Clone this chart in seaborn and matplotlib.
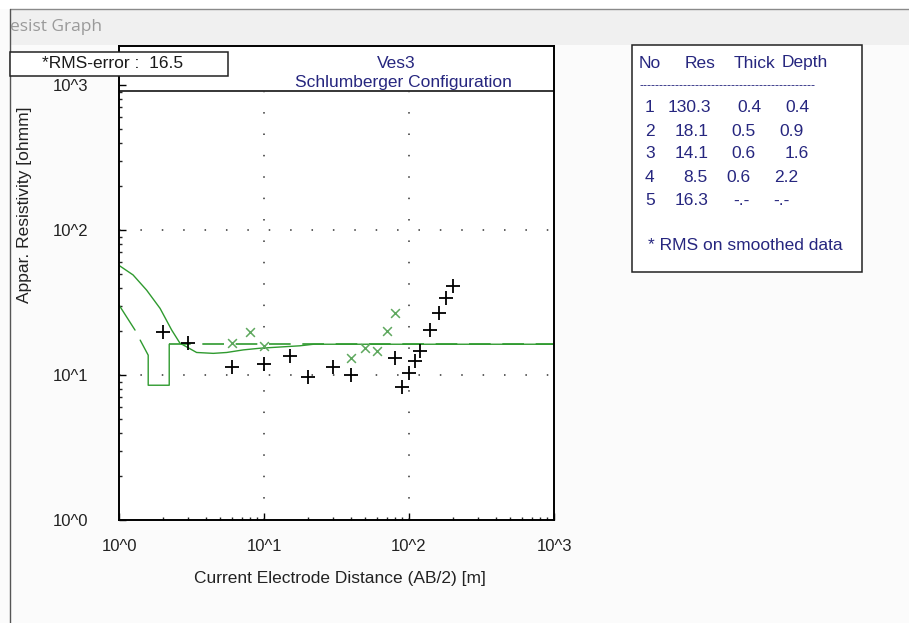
import numpy as np
import pandas as pd
import matplotlib
matplotlib.use("Agg")
import matplotlib.pyplot as plt
from matplotlib.patches import Rectangle
from matplotlib.lines import Line2D
import seaborn as sns

# ---------------- data ----------------
field_ab2 = [2, 3, 6, 10, 15, 20, 30, 40, 80, 90, 100, 110, 120, 140, 160, 180, 200]
field_rho = [19.9, 16.6, 11.3, 11.9, 13.6, 9.7, 11.3, 10.0, 13.0, 8.3, 10.3, 12.4, 14.7, 20.5, 26.8, 33.8, 41.3]

smooth_ab2 = [6, 8, 10, 40, 50, 60, 70, 80]
smooth_rho = [16.6, 19.7, 15.8, 13.0, 15.4, 14.7, 20.2, 26.8]

calc_ab2 = [1.0, 1.25, 1.55, 1.92, 2.31, 2.63, 3.43, 4.47, 5.53, 7.2, 9.4, 17.7, 22, 100, 1000]
calc_rho = [57, 49, 38.5, 28.8, 20.4, 16.6, 14.3, 14.1, 14.3, 14.9, 15.3, 15.9, 16.3, 16.3, 16.3]

model_x = [1.0, 1.29, 1.40, 1.59, 1.59, 2.22, 2.22, 2.22, 1000]
model_y = [30.4, 20.4, 17.4, 13.7, 8.5, 8.5, 16.3, 16.3, 16.3]
model_seg = [0, 0, 1, 1, 1, 1, 1, 2, 2]

x_ticks = [1, 10, 100, 1000]
x_ticklabels = ["10^0", "10^1", "10^2", "10^3"]
y_ticks = [1, 10, 100, 1000]
y_ticklabels = ["10^0", "10^1", "10^2", "10^3"]

title_lines = ["Ves3", "Schlumberger Configuration"]
rms_text = "*RMS-error :  16.5"
window_title = "esist Graph"
xlabel = "Current Electrode Distance (AB/2) [m]"
ylabel = "Appar. Resistivity [ohmm]"

tbl_header = ["No", "Res", "Thick", "Depth"]
tbl_no = ["1", "2", "3", "4", "5"]
tbl_res = ["130.3", "18.1", "14.1", "8.5", "16.3"]
tbl_thick = ["0.4", "0.5", "0.6", "0.6", "-.-"]
tbl_depth = ["0.4", "0.9", "1.6", "2.2", "-.-"]
tbl_note = "* RMS on smoothed data"

# ---------------- style ----------------
sns.set_style("white")
FONT = ["Liberation Sans", "DejaVu Sans"]
plt.rcParams["font.family"] = FONT

W, H = 909, 623
fig = plt.figure(figsize=(W / 100, H / 100), dpi=100)
fig.patch.set_facecolor("#fbfbfb")

def fx(px):
    return px / W

def fy(py):
    return 1 - py / H

BLUE = "#26267f"
GREEN = "#2f9a2f"
GREEN_X = "#5fa85f"

# window chrome
fig.add_artist(Rectangle((0, fy(9)), 1, fy(0) - fy(9), transform=fig.transFigure,
                         facecolor="white", edgecolor="none", zorder=0))
fig.add_artist(Rectangle((fx(10), fy(45)), 1, fy(9) - fy(45), transform=fig.transFigure,
                         facecolor="#f0f0f0", edgecolor="none", zorder=0))
fig.add_artist(Line2D([fx(10), 1], [fy(9), fy(9)], transform=fig.transFigure,
                      color="#8a8a8a", lw=1.0))
fig.add_artist(Line2D([fx(10), fx(10)], [fy(9), 0], transform=fig.transFigure,
                      color="#555555", lw=1.0))
fig.text(fx(10), fy(27), window_title, ha="left", va="center", fontsize=12.5,
         color="#9a9a9a", family=["Open Sans", "DejaVu Sans"])

# axes
ax_l, ax_r, ax_t, ax_b = 119, 554, 46, 520
ax = fig.add_axes([fx(ax_l), fy(ax_b), fx(ax_r - ax_l), (ax_b - ax_t) / H])
ax.set_facecolor("white")
ax.set_xscale("log")
ax.set_yscale("log")
decade_px = 145.0
ax.set_xlim(1, 1000)
ax.set_ylim(1, 10 ** ((ax_b - ax_t) / decade_px))
for sp in ax.spines.values():
    sp.set_color("black")
    sp.set_linewidth(1.4)

# separator line under the title area
sep_frac = (ax_b - 91) / (ax_b - ax_t)
sep_val = 10 ** ((ax_b - 91) / decade_px)
ax.plot([0, 1], [sep_frac, sep_frac], transform=ax.transAxes, color="black", lw=1.1)

# dotted grid at decades
ax.vlines([10, 100], 1, sep_val, colors="#333333", linewidth=1.1,
          linestyles=[(0, (1, 13))])
ax.hlines([10, 100], 1, 1000, colors="#333333", linewidth=1.1,
          linestyles=[(0, (1, 13))])

# curves
calc_df = pd.DataFrame({"x": calc_ab2, "y": calc_rho})
sns.lineplot(data=calc_df, x="x", y="y", sort=False, estimator=None,
             color=GREEN, lw=1.0, ax=ax)

model_df = pd.DataFrame({"x": model_x, "y": model_y, "seg": model_seg})
sns.lineplot(data=model_df[model_df.seg < 2], x="x", y="y", units="seg",
             sort=False, estimator=None, color=GREEN, lw=1.0, ax=ax)
sns.lineplot(data=model_df[model_df.seg == 2], x="x", y="y", sort=False,
             estimator=None, color=GREEN, lw=1.2, dashes=False, ax=ax,
             linestyle=(0, (13, 7)))

sns.scatterplot(x=smooth_ab2, y=smooth_rho, marker="x", s=40, color=GREEN_X,
                linewidth=1.1, ax=ax, zorder=4)
sns.scatterplot(x=field_ab2, y=field_rho, marker="+", s=110, color="black",
                linewidth=1.3, ax=ax, zorder=5)

# ticks
ax.set_xticks(x_ticks)
ax.set_xticklabels(x_ticklabels)
ax.set_yticks(y_ticks)
ax.set_yticklabels(y_ticklabels)
ax.tick_params(which="major", direction="in", length=5, width=1.0,
               bottom=True, left=True, top=False, right=False,
               labelsize=12, colors="black")
ax.tick_params(axis="x", which="major", pad=14)
ax.tick_params(axis="y", which="major", pad=22)
ax.tick_params(which="minor", direction="in", length=2.2, width=1.0,
               bottom=True, left=True, top=False, right=False)
for lab in ax.get_xticklabels() + ax.get_yticklabels():
    lab.set_color("#222222")
ax.set_xlabel("")
ax.set_ylabel("")

fig.text(fx(340), fy(578), xlabel, ha="center", va="center", fontsize=12.5, color="#222222")
fig.text(fx(25), fy(205), ylabel, ha="center", va="center", rotation=90,
         fontsize=12.5, color="#222222")

# title inside the frame
fig.text(fx(396), fy(63), title_lines[0], ha="center", va="center", fontsize=12.5, color=BLUE)
fig.text(fx(403), fy(83), title_lines[1], ha="center", va="center", fontsize=12.5, color=BLUE)

# RMS box
fig.add_artist(Rectangle((fx(10), fy(76)), fx(228 - 10), (76 - 52) / H,
                         transform=fig.transFigure, facecolor="white",
                         edgecolor="#222222", lw=1.1, zorder=10))
fig.text(fx(113), fy(64), rms_text, ha="center", va="center", fontsize=12.5,
         color="#1a1a1a", zorder=11)

# result table box
fig.add_artist(Rectangle((fx(632), fy(272)), fx(862 - 632), (272 - 45) / H,
                         transform=fig.transFigure, facecolor="white",
                         edgecolor="#222222", lw=1.1, zorder=10))
hdr_x = [639, 685, 734, 782]
for s, x in zip(tbl_header, hdr_x):
    fig.text(fx(x), fy(63), s, ha="left", va="center", fontsize=12.5, color=BLUE, zorder=11)
fig.text(fx(639), fy(86), "-" * 44, ha="left", va="center", fontsize=9, color=BLUE, zorder=11)
row_y = [108, 131, 154, 177, 200]
no_x = [645] * 5
res_x = [668, 675, 675, 683, 675]
thick_x = [737, 731, 731, 726, 733]
depth_x = [785, 779, 785, 774, 773]
for i in range(5):
    for s, xs in ((tbl_no[i], no_x), (tbl_res[i], res_x), (tbl_thick[i], thick_x), (tbl_depth[i], depth_x)):
        fig.text(fx(xs[i]), fy(row_y[i]), s, ha="left", va="center", fontsize=12.5,
                 color=BLUE, zorder=11)
fig.text(fx(648), fy(245), tbl_note, ha="left", va="center", fontsize=12.5, color=BLUE, zorder=11)

fig.savefig("out.png", dpi=100, facecolor=fig.get_facecolor())
